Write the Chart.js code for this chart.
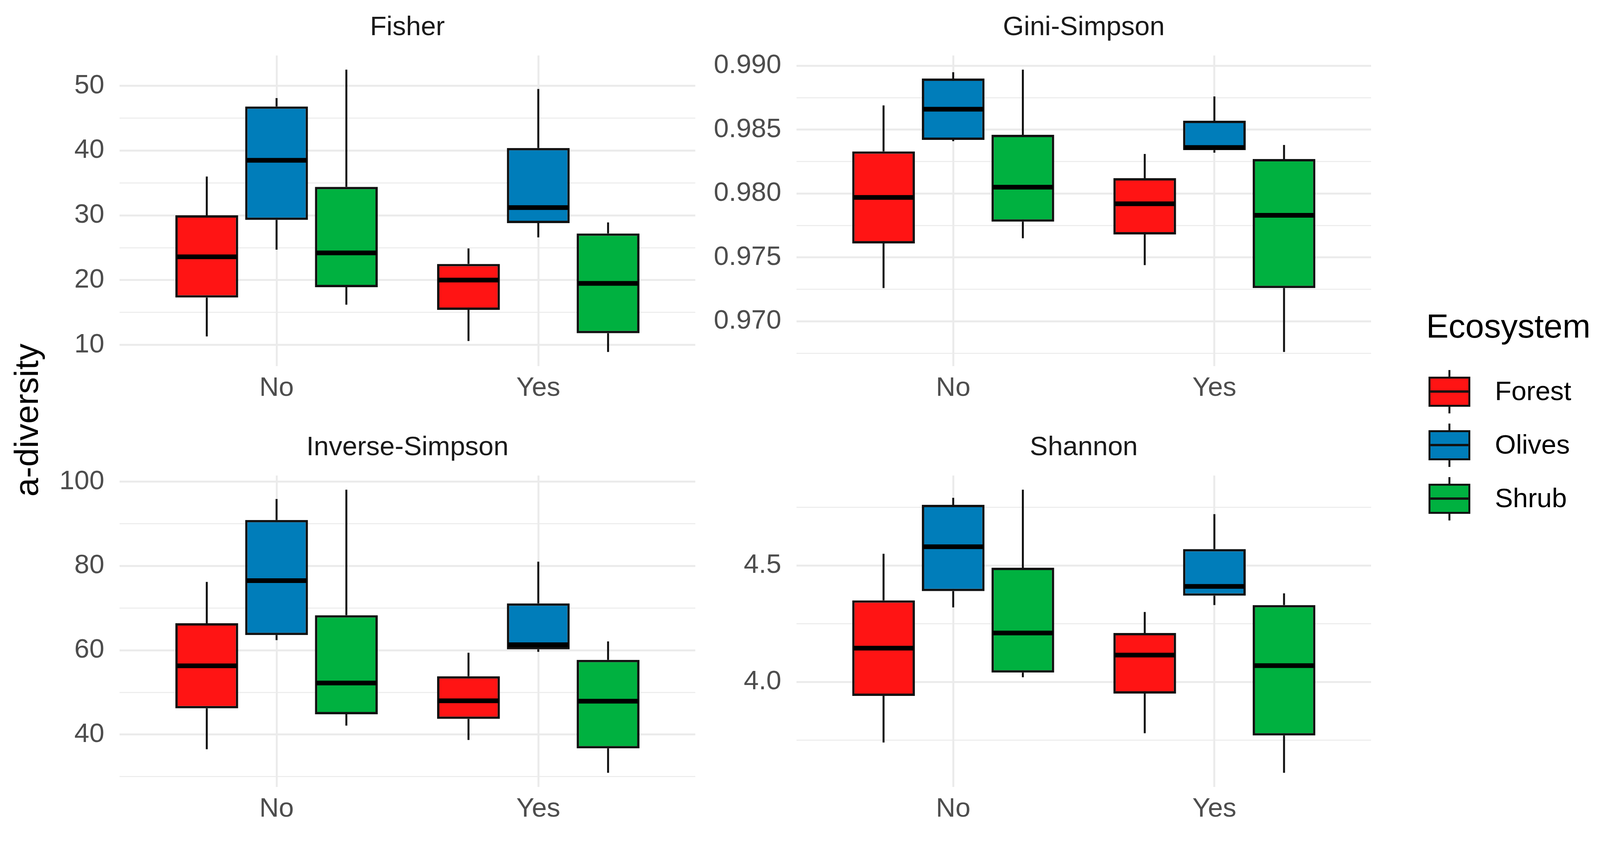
<!DOCTYPE html>
<html>
<head>
<meta charset="utf-8">
<script src="https://cdn.jsdelivr.net/npm/chart.js@4.4.1/dist/chart.umd.min.js"></script>
<style>
  html, body { margin: 0; padding: 0; background: #fff; }
  body { width: 4150px; height: 2160px; position: relative; overflow: hidden;
         font-family: "Liberation Sans", Arial, sans-serif; }
  canvas { position: absolute; }
  .ytitle { position: absolute; left: 67px; top: 1075px; font-size: 86px; line-height: 1;
            white-space: nowrap; color: #000;
            transform: translate(-50%, -50%) rotate(-90deg); }
  .legend-title { position: absolute; left: 3651px; top: 791px; font-size: 86px; line-height: 1; color: #000; }
  .key { position: absolute; left: 3657px; width: 107px; height: 111px; }
  .key .whisker { position: absolute; left: 51px; width: 5px; top: 0; height: 111px; background: #111; }
  .key .box { position: absolute; left: 0; top: 17px; width: 107px; height: 77px;
              border: 5px solid #111; box-sizing: border-box; }
  .key .median { position: absolute; left: 0; right: 0; top: 30px; height: 6px; background: #111; }
  .key-label { position: absolute; left: 3827px; font-size: 69px; line-height: 1; color: #000; }
</style>
</head>
<body>
<canvas id="fisher" width="1671" height="1047" style="left:109px;top:0px"></canvas>
<canvas id="gini" width="1692" height="1047" style="left:1818px;top:0px"></canvas>
<canvas id="inverse" width="1671" height="1047" style="left:109px;top:1077px"></canvas>
<canvas id="shannon" width="1692" height="1047" style="left:1818px;top:1077px"></canvas>
<div class="ytitle">a-diversity</div>
<div class="legend-title">Ecosystem</div>
<div id="legend"></div>

<script>
// categories and groups
const categories = ['No', 'Yes'];
const ecosystems = ['Forest', 'Olives', 'Shrub'];
const ecoColors = ['#FF1414', '#007DBA', '#00B140'];

// [min, q1, median, q3, max] for No / Yes
const fisherForest = [[11.3, 17.3, 23.6, 30.0, 36.0], [10.6, 15.4, 20.0, 22.5, 24.9]];
const fisherOlives = [[24.7, 29.3, 38.5, 46.8, 48.1], [26.6, 28.8, 31.2, 40.4, 49.5]];
const fisherShrub  = [[16.2, 18.9, 24.2, 34.4, 52.5], [8.9, 11.8, 19.5, 27.2, 28.9]];

const giniForest = [[0.9726, 0.9761, 0.9797, 0.9833, 0.9869], [0.9744, 0.9768, 0.9792, 0.9812, 0.9831]];
const giniOlives = [[0.9841, 0.9842, 0.9866, 0.9890, 0.9895], [0.9832, 0.9834, 0.9836, 0.9857, 0.9876]];
const giniShrub  = [[0.9765, 0.9778, 0.9805, 0.9846, 0.9897], [0.9676, 0.9726, 0.9783, 0.9827, 0.9838]];

const invForest = [[36.5, 46.2, 56.3, 66.4, 76.2], [38.7, 43.7, 48.0, 53.8, 59.4]];
const invOlives = [[62.4, 63.6, 76.5, 90.9, 95.9], [59.6, 60.2, 61.3, 71.1, 81.0]];
const invShrub  = [[42.1, 44.8, 52.2, 68.3, 98.1], [30.9, 36.7, 47.9, 57.7, 62.1]];

const shanForest = [[3.74, 3.94, 4.145, 4.35, 4.55], [3.78, 3.95, 4.115, 4.21, 4.30]];
const shanOlives = [[4.32, 4.39, 4.58, 4.76, 4.79], [4.33, 4.37, 4.41, 4.57, 4.72]];
const shanShrub  = [[4.02, 4.04, 4.21, 4.49, 4.825], [3.61, 3.77, 4.07, 4.33, 4.38]];

// tick labels (major) and minor grid values
const fisherTicks = [10, 20, 30, 40, 50];
const fisherMinor = [15, 25, 35, 45];
const giniTicks = [0.970, 0.975, 0.980, 0.985, 0.990];
const giniMinor = [0.9675, 0.9725, 0.9775, 0.9825, 0.9875];
const invTicks = [40, 60, 80, 100];
const invMinor = [30, 50, 70, 90];
const shanTicks = [4.0, 4.5];
const shanMinor = [3.75, 4.25, 4.75];

const FONT = "'Liberation Sans', Arial, sans-serif";
Chart.defaults.font.family = FONT;

// whiskers behind the boxes, medians on top, panel title above
const boxPlugin = {
    id: 'boxes',
    beforeDatasetsDraw(chart) {
        const ctx = chart.ctx, y = chart.scales.y;
        ctx.save();
        ctx.strokeStyle = '#111';
        ctx.lineWidth = 5;
        chart.data.datasets.forEach((ds, i) => {
            chart.getDatasetMeta(i).data.forEach((el, j) => {
                const s = ds.stats[j];
                ctx.beginPath();
                ctx.moveTo(el.x, y.getPixelForValue(s[4]));
                ctx.lineTo(el.x, y.getPixelForValue(s[3]));
                ctx.moveTo(el.x, y.getPixelForValue(s[1]));
                ctx.lineTo(el.x, y.getPixelForValue(s[0]));
                ctx.stroke();
            });
        });
        ctx.restore();
    },
    afterDatasetsDraw(chart) {
        const ctx = chart.ctx, y = chart.scales.y;
        ctx.save();
        ctx.strokeStyle = '#000';
        ctx.lineWidth = 12;
        chart.data.datasets.forEach((ds, i) => {
            chart.getDatasetMeta(i).data.forEach((el, j) => {
                const py = y.getPixelForValue(ds.stats[j][2]);
                ctx.beginPath();
                ctx.moveTo(el.x - el.width / 2 + 3, py);
                ctx.lineTo(el.x + el.width / 2 - 3, py);
                ctx.stroke();
            });
        });
        ctx.restore();
    },
    afterDraw(chart) {
        const a = chart.chartArea, ctx = chart.ctx;
        ctx.save();
        ctx.fillStyle = '#1A1A1A';
        ctx.font = '69px ' + FONT;
        ctx.textAlign = 'center';
        ctx.textBaseline = 'alphabetic';
        ctx.fillText(chart.options.panelTitle, (a.left + a.right) / 2, a.top - 52);
        ctx.restore();
    }
};

function makePanel(id, title, series, ticks, minor, decimals, axisW, padTop) {
    const all = series.flat(2);
    const lo = Math.min(...all), hi = Math.max(...all);
    const pad = (hi - lo) * 0.05;
    const gridVals = ticks.concat(minor).sort((a, b) => a - b);

    new Chart(document.getElementById(id), {
        type: 'bar',
        data: {
            datasets: ecosystems.map((name, i) => ({
                label: name,
                data: categories.map((c, j) => ({ x: j + 1, y: [series[i][j][1], series[i][j][3]] })),
                stats: series[i],
                backgroundColor: ecoColors[i],
                borderColor: '#111',
                borderWidth: 6,
                borderSkipped: false
            }))
        },
        options: {
            panelTitle: title,
            responsive: false,
            animation: false,
            devicePixelRatio: 1,
            layout: { padding: { top: padTop, left: 0, right: 0, bottom: 0 } },
            plugins: { legend: { display: false }, tooltip: { enabled: false } },
            scales: {
                x: {
                    type: 'linear', min: 0.4, max: 2.6, offset: false,
                    grid: { color: '#EBEBEB', lineWidth: 5, drawTicks: false, offset: false },
                    border: { display: false },
                    afterBuildTicks: s => { s.ticks = categories.map((c, j) => ({ value: j + 1 })); },
                    afterFit: s => { s.height = 110; },
                    ticks: {
                        callback: v => categories[v - 1],
                        color: '#4D4D4D', font: { size: 69 }, padding: 16,
                        autoSkip: false, maxRotation: 0
                    }
                },
                y: {
                    min: lo - pad, max: hi + pad,
                    grid: {
                        color: '#EBEBEB', drawTicks: false,
                        lineWidth: c => (c.tick && ticks.includes(c.tick.value)) ? 5 : 2.5
                    },
                    border: { display: false },
                    afterBuildTicks: s => { s.ticks = gridVals.map(v => ({ value: v })); },
                    afterFit: s => { s.width = axisW; },
                    ticks: {
                        callback: v => ticks.includes(v) ? v.toFixed(decimals) : '',
                        color: '#4D4D4D', font: { size: 69 }, padding: 39, autoSkip: false
                    }
                }
            }
        },
        plugins: [boxPlugin]
    });
}

makePanel('fisher', 'Fisher', [fisherForest, fisherOlives, fisherShrub], fisherTicks, fisherMinor, 0, 197, 142);
makePanel('gini', 'Gini-Simpson', [giniForest, giniOlives, giniShrub], giniTicks, giniMinor, 3, 221, 142);
makePanel('inverse', 'Inverse-Simpson', [invForest, invOlives, invShrub], invTicks, invMinor, 0, 197, 140);
makePanel('shannon', 'Shannon', [shanForest, shanOlives, shanShrub], shanTicks, shanMinor, 1, 221, 140);

// legend
const legend = document.getElementById('legend');
ecosystems.forEach((name, i) => {
    const center = 1002 + i * 137;
    const key = document.createElement('div');
    key.className = 'key';
    key.style.top = (center - 55) + 'px';
    key.innerHTML = '<div class="whisker"></div><div class="box" style="background:' + ecoColors[i] +
        '"><div class="median"></div></div>';
    legend.appendChild(key);
    const label = document.createElement('div');
    label.className = 'key-label';
    label.style.top = (center - 36) + 'px';
    label.textContent = name;
    legend.appendChild(label);
});
</script>
</body>
</html>
